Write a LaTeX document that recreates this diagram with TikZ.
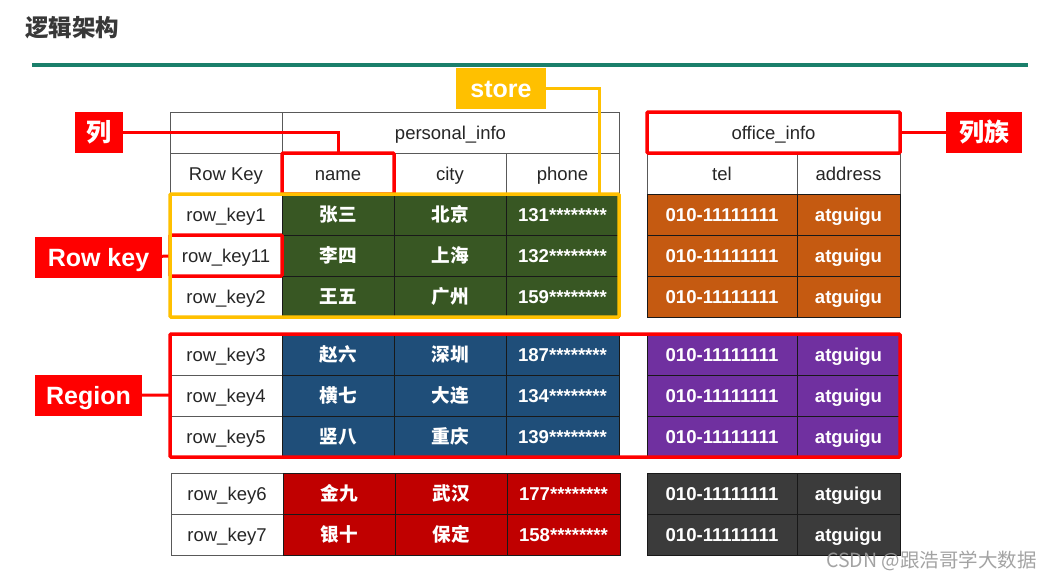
\documentclass[tikz,border=0pt]{standalone}
\usepackage{fontspec}
\setmainfont{Liberation Sans}
\newfontfamily\cjk{Noto Sans CJK SC}
\usetikzlibrary{positioning,fit}
\definecolor{rulegreen}{RGB}{26,127,107}
\definecolor{storeyellow}{RGB}{255,192,0}
\definecolor{markred}{RGB}{255,0,0}
\definecolor{cellgreen}{RGB}{56,87,35}
\definecolor{cellblue}{RGB}{31,78,121}
\definecolor{cellred}{RGB}{192,0,0}
\definecolor{cellorange}{RGB}{197,90,17}
\definecolor{cellpurple}{RGB}{112,48,160}
\definecolor{celldark}{RGB}{59,59,59}
\tikzset{
    plain/.style={
           rectangle,
           draw=black!65, line width=0.9pt,
           fill=white,
           minimum height=41pt,
           inner sep=0pt, outer sep=0pt,
           text height=18.5pt, text depth=4pt,
           text=black!85,
           font=\fontsize{18.5}{20}\selectfont
           },
    keycol/.style={plain, minimum width=112pt},
    wide/.style={plain, minimum width=150pt},
    narrow/.style={plain, minimum width=103pt},
    data/.style={draw=black!90, text=white, font=\fontsize{18.6}{20}\selectfont\bfseries},
    tagbox/.style={
           rectangle,
           fill=markred,
           minimum height=41pt,
           inner sep=0pt, outer sep=0pt,
           text height=23pt, text depth=5pt,
           text=white,
           font=\fontsize{25}{28}\selectfont\bfseries
           },
    redframe/.style={draw=markred, line width=3.5pt, rounded corners=1pt, inner sep=0pt, outer sep=0pt},
    yellowframe/.style={draw=storeyellow, line width=3.5pt, rounded corners=1pt, inner sep=0pt, outer sep=0pt},
    redline/.style={draw=markred, line width=3pt},
    yellowline/.style={draw=storeyellow, line width=3pt},
}
\newcommand{\zh}[1]{{\cjk\bfseries #1}}

\begin{document}
\begin{tikzpicture}[x=1pt,y=-1pt]
\useasboundingbox (0,0) rectangle (1051,579);

% Title and rule
\node[anchor=west, inner sep=0pt, text=black!78, font=\fontsize{23.5}{26}\selectfont] (TITLE) at (25,28) {\zh{逻辑架构}};
\coordinate (RULEL) at (32,65);
\coordinate (RULER) at (1028,65);
\draw[rulegreen, line width=3.5pt] (RULEL) -- (RULER);

% Header rows
\node[keycol] (BLANK) at (226,132.5) {};
\node[plain, minimum width=337pt, right=0pt of BLANK] (PERSONAL) {personal\_info};
\node[plain, minimum width=253pt] (OFFICE) at (773.5,132.5) {office\_info};
\node[keycol] (ROWKEYHEAD) at (226,173.5) {Row Key};
\node[keycol, right=0pt of ROWKEYHEAD] (NAMEHEAD) {name};
\node[keycol, right=0pt of NAMEHEAD] (CITYHEAD) {city};
\node[keycol, minimum width=113pt, right=0pt of CITYHEAD] (PHONEHEAD) {phone};
\node[wide] (TELHEAD) at (722,173.5) {tel};
\node[narrow, right=0pt of TELHEAD] (ADDRHEAD) {address};

% First table
\node[keycol] (KEYA) at (226,214.5) {row\_key1};
\node[keycol, data, fill=cellgreen, right=0pt of KEYA] (NAMEA) {\zh{张三}};
\node[keycol, data, fill=cellgreen, right=0pt of NAMEA] (CITYA) {\zh{北京}};
\node[keycol, data, fill=cellgreen, minimum width=113pt, right=0pt of CITYA] (PHONEA) {131********};
\node[wide, data, fill=cellorange] (TELA) at (722,214.5) {010-11111111};
\node[narrow, data, fill=cellorange, right=0pt of TELA] (ADDRA) {atguigu};

\node[keycol] (KEYB) at (226,255.5) {row\_key11};
\node[keycol, data, fill=cellgreen, right=0pt of KEYB] (NAMEB) {\zh{李四}};
\node[keycol, data, fill=cellgreen, right=0pt of NAMEB] (CITYB) {\zh{上海}};
\node[keycol, data, fill=cellgreen, minimum width=113pt, right=0pt of CITYB] (PHONEB) {132********};
\node[wide, data, fill=cellorange] (TELB) at (722,255.5) {010-11111111};
\node[narrow, data, fill=cellorange, right=0pt of TELB] (ADDRB) {atguigu};

\node[keycol] (KEYC) at (226,296.5) {row\_key2};
\node[keycol, data, fill=cellgreen, right=0pt of KEYC] (NAMEC) {\zh{王五}};
\node[keycol, data, fill=cellgreen, right=0pt of NAMEC] (CITYC) {\zh{广州}};
\node[keycol, data, fill=cellgreen, minimum width=113pt, right=0pt of CITYC] (PHONEC) {159********};
\node[wide, data, fill=cellorange] (TELC) at (722,296.5) {010-11111111};
\node[narrow, data, fill=cellorange, right=0pt of TELC] (ADDRC) {atguigu};

% Second table
\node[keycol] (KEYD) at (226,354.5) {row\_key3};
\node[keycol, data, fill=cellblue, right=0pt of KEYD] (NAMED) {\zh{赵六}};
\node[keycol, data, fill=cellblue, right=0pt of NAMED] (CITYD) {\zh{深圳}};
\node[keycol, data, fill=cellblue, minimum width=113pt, right=0pt of CITYD] (PHONED) {187********};
\node[wide, data, fill=cellpurple] (TELD) at (722,354.5) {010-11111111};
\node[narrow, data, fill=cellpurple, right=0pt of TELD] (ADDRD) {atguigu};

\node[keycol] (KEYE) at (226,395.5) {row\_key4};
\node[keycol, data, fill=cellblue, right=0pt of KEYE] (NAMEE) {\zh{横七}};
\node[keycol, data, fill=cellblue, right=0pt of NAMEE] (CITYE) {\zh{大连}};
\node[keycol, data, fill=cellblue, minimum width=113pt, right=0pt of CITYE] (PHONEE) {134********};
\node[wide, data, fill=cellpurple] (TELE) at (722,395.5) {010-11111111};
\node[narrow, data, fill=cellpurple, right=0pt of TELE] (ADDRE) {atguigu};

\node[keycol] (KEYF) at (226,436.5) {row\_key5};
\node[keycol, data, fill=cellblue, right=0pt of KEYF] (NAMEF) {\zh{竖八}};
\node[keycol, data, fill=cellblue, right=0pt of NAMEF] (CITYF) {\zh{重庆}};
\node[keycol, data, fill=cellblue, minimum width=113pt, right=0pt of CITYF] (PHONEF) {139********};
\node[wide, data, fill=cellpurple] (TELF) at (722,436.5) {010-11111111};
\node[narrow, data, fill=cellpurple, right=0pt of TELF] (ADDRF) {atguigu};

% Third table
\node[keycol] (KEYG) at (227,493.5) {row\_key6};
\node[keycol, data, fill=cellred, right=0pt of KEYG] (NAMEG) {\zh{金九}};
\node[keycol, data, fill=cellred, right=0pt of NAMEG] (CITYG) {\zh{武汉}};
\node[keycol, data, fill=cellred, minimum width=113pt, right=0pt of CITYG] (PHONEG) {177********};
\node[wide, data, fill=celldark] (TELG) at (722,493.5) {010-11111111};
\node[narrow, data, fill=celldark, right=0pt of TELG] (ADDRG) {atguigu};

\node[keycol] (KEYH) at (227,534.5) {row\_key7};
\node[keycol, data, fill=cellred, right=0pt of KEYH] (NAMEH) {\zh{银十}};
\node[keycol, data, fill=cellred, right=0pt of NAMEH] (CITYH) {\zh{保定}};
\node[keycol, data, fill=cellred, minimum width=113pt, right=0pt of CITYH] (PHONEH) {158********};
\node[wide, data, fill=celldark] (TELH) at (722,534.5) {010-11111111};
\node[narrow, data, fill=celldark, right=0pt of TELH] (ADDRH) {atguigu};

% Red frames
\node[redframe, fit=(NAMEHEAD)] (NAMEBOX) {};
\node[redframe, fit=(OFFICE)] (OFFICEBOX) {};
\node[redframe, fit=(KEYB)] (ROWKEYBOX) {};
\node[redframe, fit=(KEYD)(ADDRF)] (REGIONBOX) {};

% Labels
\node[tagbox, minimum width=48pt] (COLUMN) at (99,132.5) {\zh{列}};
\node[tagbox, minimum width=76pt] (FAMILY) at (984,132.5) {\zh{列族}};
\node[tagbox, minimum width=127pt] (ROWKEY) at (98.5,257) {Row key};
\node[tagbox, minimum width=107pt] (REGION) at (88.5,395) {Region};
\node[tagbox, fill=storeyellow, minimum width=90pt] (STORE) at (501,88.5) {store};

% Connectors
\coordinate (STOREDROP) at (599,194);
\draw[redline] (COLUMN) -| (NAMEBOX);
\draw[redline] (FAMILY) -- (OFFICEBOX);
\draw[redline] (ROWKEY) -- (ROWKEYBOX);
\draw[redline] (REGION) -- (REGIONBOX);
\draw[yellowline] (STORE) -| (STOREDROP);

% Yellow frame goes over the red ones
\node[yellowframe, fit=(KEYA)(PHONEC)] (STOREBOX) {};

% Watermark
\node[anchor=east, inner sep=0pt, text=black!40, opacity=0.9, font=\fontsize{19.5}{22}\selectfont\cjk] (WATERMARK) at (1037,561) {CSDN @跟浩哥学大数据};

\end{tikzpicture}
\end{document}
